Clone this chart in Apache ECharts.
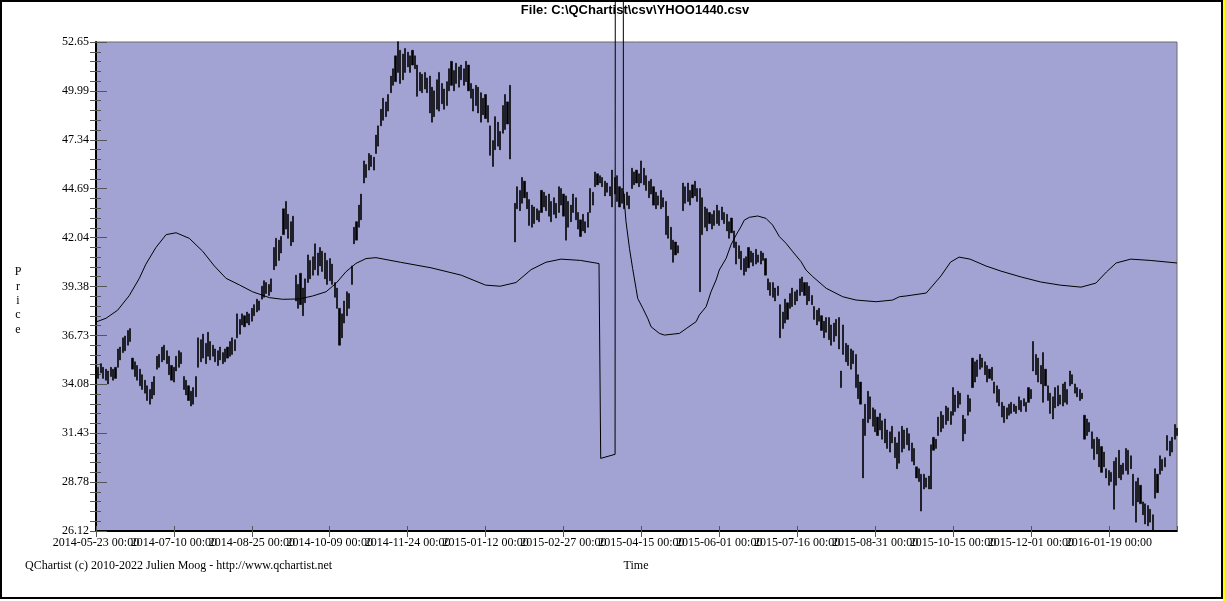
<!DOCTYPE html>
<html><head><meta charset="utf-8">
<script src="https://cdn.jsdelivr.net/npm/echarts@6/dist/echarts.min.js"></script>
<style>html,body{margin:0;padding:0;background:#fff}#c{width:1225px;height:601px}</style>
</head><body><div id="c"></div>
<script>
const chartTitle = 'File: C:\\QChartist\\csv\\YHOO1440.csv';
const xTickLabels = ['2014-05-23 00:00','2014-07-10 00:00','2014-08-25 00:00','2014-10-09 00:00','2014-11-24 00:00','2015-01-12 00:00','2015-02-27 00:00','2015-04-15 00:00','2015-06-01 00:00','2015-07-16 00:00','2015-08-31 00:00','2015-10-15 00:00','2015-12-01 00:00','2016-01-19 00:00'];
const yTickLabels = ['26.12','28.78','31.43','34.08','36.73','39.38','42.04','44.69','47.34','49.99','52.65'];
const barCount = 445;
const barLow = [
34.6,34.4,34.7,34.4,34.3,34.1,34.5,34.3,34.4,35.0,35.4,35.8,35.9,36.2,36.4,34.9,34.5,34.3,34.0,33.8,
33.6,33.2,33.0,33.3,33.5,34.9,35.0,35.3,35.4,35.2,34.6,34.3,34.2,34.8,35.0,35.2,33.8,33.5,33.2,32.9,
33.0,33.4,35.0,35.3,35.5,35.2,35.6,35.4,35.6,35.3,35.1,35.4,35.2,35.3,35.5,35.6,35.7,35.9,36.6,36.8,
37.3,37.2,37.4,37.3,37.5,37.8,38.0,38.1,38.7,38.8,39.0,38.9,39.1,40.3,40.5,40.8,41.2,42.2,42.5,42.0,
41.6,41.8,38.6,38.2,38.4,37.8,38.5,39.6,39.8,40.0,40.3,40.0,40.5,40.2,39.8,39.5,39.7,39.5,38.8,38.2,
36.2,36.6,37.4,37.8,38.2,39.5,41.7,41.9,42.6,43.0,45.0,45.3,45.7,45.9,45.7,46.6,47.0,48.1,48.4,48.6,
48.9,49.9,50.3,50.5,51.0,50.4,50.6,51.0,51.3,51.0,51.4,51.2,49.7,50.0,49.9,50.1,49.9,48.8,48.3,48.6,
49.0,48.9,49.3,49.0,49.2,50.0,50.3,50.0,50.4,50.2,50.6,50.3,50.5,50.0,49.6,48.9,49.2,48.8,48.3,48.7,
48.5,48.3,46.5,45.9,46.8,47.0,46.8,47.7,47.9,48.2,46.3,null,41.8,43.6,43.5,43.9,44.2,43.6,42.7,42.6,
42.8,43.0,42.9,43.4,43.7,43.5,43.2,42.9,43.3,43.1,43.4,43.8,43.2,41.9,42.6,42.9,43.4,43.0,42.5,42.1,
42.4,42.3,42.6,43.4,43.8,44.8,44.9,45.0,44.8,44.3,44.5,44.3,43.7,44.4,44.0,43.7,43.9,43.6,43.8,43.6,
44.7,44.9,45.0,44.8,45.0,44.9,44.6,44.2,44.4,43.8,43.6,43.8,43.6,43.7,42.2,42.0,41.4,40.7,41.1,41.2,
null,43.5,43.9,44.0,43.8,44.2,44.3,44.0,39.1,42.2,42.6,42.4,42.8,42.5,42.7,42.8,42.7,43.0,42.8,42.4,
42.0,42.3,41.5,40.6,40.9,40.3,40.0,40.2,40.4,40.7,40.5,40.6,40.7,40.6,40.8,40.0,39.2,38.9,38.8,38.6,
38.9,36.6,37.1,37.4,37.6,38.2,38.3,38.4,38.6,38.9,39.1,38.9,38.4,38.6,38.4,37.6,37.3,37.5,37.0,36.6,
36.9,36.5,36.2,36.4,36.7,36.0,33.9,35.7,35.3,35.1,34.9,35.2,33.9,33.3,33.0,29.0,31.3,32.0,32.2,31.8,
31.5,31.3,31.6,31.1,30.9,30.6,30.4,30.9,30.1,29.5,29.8,30.4,30.6,30.8,30.5,29.9,29.7,29.0,28.8,27.2,
28.4,28.5,28.4,28.4,30.5,30.6,31.3,31.5,31.7,31.9,32.1,31.9,32.4,32.6,32.8,33.0,31.0,31.4,32.4,32.6,
33.9,34.2,34.5,34.9,35.0,34.6,34.2,34.4,34.3,33.6,33.1,32.9,32.3,32.0,32.2,32.4,32.5,32.6,32.5,32.7,
32.6,32.9,32.6,33.1,33.3,34.8,34.6,34.2,34.1,33.1,34.0,33.2,32.5,32.2,32.8,32.9,33.0,32.9,33.1,33.0,
34.0,34.1,33.6,33.4,33.2,33.3,31.1,31.3,31.5,30.6,30.0,30.3,29.6,29.3,29.6,29.0,28.6,28.8,27.3,28.6,
29.0,28.9,29.2,29.4,29.2,29.5,27.5,26.6,27.7,27.6,27.0,26.5,26.4,26.6,26.1,27.9,28.2,29.2,29.4,29.6,
30.5,30.2,30.4,31.1,31.3
];
const barHigh = [
35.1,35.0,35.2,35.0,34.9,34.8,35.0,34.9,35.0,36.0,36.1,36.6,36.7,37.0,37.1,35.5,35.3,35.1,34.9,34.6,
34.3,34.0,33.8,34.2,34.5,35.6,35.7,36.1,36.2,35.9,35.6,35.1,35.0,35.6,35.9,35.8,34.5,34.3,34.0,33.7,
33.9,34.5,36.6,36.5,36.8,36.3,36.9,36.4,36.2,36.0,35.9,36.1,35.8,36.0,36.1,36.4,36.6,36.5,37.9,37.6,
37.9,37.8,38.0,37.9,38.2,38.4,38.7,38.6,39.4,39.7,39.6,39.5,39.8,41.5,42.0,41.9,42.1,43.6,44.0,43.3,
42.9,43.2,40.0,39.5,40.1,39.3,39.8,41.1,40.8,41.0,41.7,41.2,41.5,41.3,41.2,40.8,40.9,40.6,39.6,39.3,
38.2,37.9,38.6,39.1,39.0,40.5,42.6,42.9,43.8,44.4,46.2,46.0,46.6,46.5,46.4,47.6,48.1,49.0,49.6,49.4,
49.8,50.8,51.2,51.9,52.67,52.2,52.0,52.3,52.1,51.9,52.2,51.9,51.4,51.0,50.9,51.0,50.7,50.8,50.2,50.0,
50.6,51.0,50.4,50.1,50.5,51.2,51.6,51.1,51.5,51.3,51.4,51.2,51.6,51.4,50.4,50.1,50.3,50.2,49.9,49.6,
49.8,49.2,48.1,47.3,48.6,48.3,47.8,49.2,49.8,49.4,50.3,null,43.9,44.8,44.6,45.3,45.1,44.5,44.1,43.8,
43.7,43.6,43.5,44.6,44.5,44.3,44.4,44.0,44.2,43.9,44.8,44.7,44.4,44.3,44.0,43.8,44.4,44.2,43.4,43.0,
43.3,42.9,43.4,44.7,44.5,45.6,45.5,45.4,45.3,45.1,45.0,44.8,45.7,45.3,45.4,44.8,44.7,44.4,44.5,44.3,
45.8,45.6,45.7,45.5,46.2,45.8,45.4,45.1,45.2,44.8,44.5,44.3,44.6,44.2,44.0,43.2,42.6,41.9,41.8,41.6,
null,45.0,44.8,45.0,44.6,44.9,45.1,44.7,44.7,44.2,43.7,43.6,43.4,43.3,43.5,43.8,43.5,43.7,43.4,43.3,
42.9,43.1,42.4,41.8,41.6,41.3,40.9,41.0,41.5,41.3,41.2,41.4,41.1,41.3,41.2,40.9,39.8,39.6,39.6,39.3,
39.4,38.4,38.0,38.7,38.5,39.0,39.3,39.1,39.2,39.8,39.9,39.6,39.6,39.4,38.9,38.3,38.1,38.2,37.8,37.5,
37.7,37.7,37.3,37.4,37.6,37.7,34.8,37.3,36.3,36.2,36.0,35.9,35.7,34.6,34.2,32.2,33.0,33.7,33.4,32.8,
32.7,32.3,32.5,32.1,32.2,31.6,31.5,31.8,31.2,30.9,31.5,31.8,31.6,31.7,31.4,30.9,30.6,29.6,29.5,29.2,
29.2,29.0,29.1,30.8,31.2,31.1,32.3,32.6,32.4,32.9,32.8,32.6,33.9,33.5,33.7,33.6,32.4,32.2,33.5,33.3,
35.5,35.3,35.4,35.7,35.5,35.3,35.1,34.9,35.0,34.2,34.0,33.8,33.1,32.9,32.8,33.0,33.1,33.0,32.9,33.4,
33.2,33.3,33.1,33.9,33.8,36.4,35.7,35.5,35.1,35.8,34.9,34.0,33.6,33.4,33.9,34.0,33.5,34.1,34.2,33.8,
34.8,34.6,34.1,33.9,33.8,33.6,32.4,32.2,32.0,31.5,31.1,31.2,31.1,30.7,30.4,29.5,29.4,29.3,29.9,30.1,
30.5,29.7,29.8,30.6,30.5,30.2,29.2,28.8,29.0,28.6,27.7,27.6,27.5,27.3,27.0,29.5,29.2,30.2,30.0,30.1,
31.3,31.0,31.2,31.9,31.7
];
const cycleLine = [
[0,37.46],[4.1,37.66],[8.9,38.1],[13.7,38.9],[17.8,39.83],[20.5,40.6],[24.6,41.5],[28.8,42.2],[32.9,42.3],
[38.3,42.0],[43.8,41.3],[48.6,40.5],[53.4,39.83],[58.9,39.47],[64.3,39.1],[71.2,38.78],[76.7,38.69],
[83.5,38.71],[89,38.87],[94.5,39.1],[98.6,39.56],[102.7,40.19],[106.8,40.64],[110.9,40.9],[115,40.95],
[125,40.7],[137.6,40.4],[150,40.0],[160,39.46],[166,39.4],[172.5,39.6],[178.7,40.3],[184.8,40.7],
[191,40.87],[199,40.8],[206.6,40.63],[207.3,30.06],[213.2,30.28],[214.1,300],[216.4,300],[216.6,44.6],
[217.7,42.9],[219.1,41.46],[220.4,40.37],[221.8,39.29],[222.5,38.74],[224.6,38.2],[226.6,37.66],[228.0,37.2],
[231.4,36.84],[233.5,36.75],[239.6,36.84],[242.4,37.1],[246.5,37.48],[247.8,37.84],[250.6,38.29],[252.6,39.1],
[254.7,39.74],[256.0,40.28],[258.8,40.91],[260.8,41.64],[262.9,42.18],[264.9,42.63],[266.3,42.99],[268.4,43.14],
[271.8,43.21],[275.2,43.08],[277.9,42.72],[280.7,42.09],[283.4,41.73],[286.2,41.27],[289.6,40.73],[291.6,40.28],
[294.4,39.92],[299.9,39.29],[306.7,38.83],[312.2,38.65],[320.4,38.56],[327.2,38.65],[330.0,38.83],[332.7,38.87],
[341,39.03],[347,39.95],[351,40.71],[354.5,40.98],[359,40.87],[365.5,40.5],[371.7,40.22],[380,39.9],
[388,39.63],[396,39.46],[404.6,39.35],[410.7,39.57],[415,40.17],[419,40.66],[425,40.87],[433,40.8],[444,40.66]
];

const categories = [];
for (let i = 0; i < barCount; i++) categories.push(String(i));
const ohlc = barLow.map((l, i) => (l == null ? '-' : [l, barHigh[i], l, barHigh[i]]));
const tickStep = 32;
const labelAt = (v, parity) => {
  const n = Math.round(Number(v));
  if (n % tickStep !== 0) return '';
  const k = n / tickStep;
  return (k % 2 === parity && xTickLabels[k]) ? xTickLabels[k] : '';
};

const serif = 'Liberation Serif, Times New Roman, serif';
const tickGray = '#555555';
const xLabelStyle = {margin: 6, color: '#000', fontFamily: serif, fontSize: 12};
const chart = echarts.init(document.getElementById('c'), null, {renderer: 'canvas'});
chart.setOption({
  animation: false,
  backgroundColor: '#ffffff',
  grid: {left: 96, right: 48, top: 42, bottom: 70, show: true, backgroundColor: '#A3A3D3', borderColor: '#6a6a6a', borderWidth: 1},
  xAxis: [
    {type: 'category', data: categories, boundaryGap: false, position: 'bottom',
     axisLine: {lineStyle: {color: '#000', width: 2}},
     axisTick: {show: true, interval: tickStep - 1, length: 6, lineStyle: {color: tickGray}},
     axisLabel: Object.assign({interval: tickStep * 2 - 1, formatter: v => labelAt(v, 0)}, xLabelStyle),
     splitLine: {show: false}},
    {type: 'value', min: 0, max: barCount - 1, interval: tickStep, position: 'bottom',
     axisLine: {show: false}, axisTick: {show: true, inside: true, length: 5, lineStyle: {color: tickGray}},
     axisLabel: Object.assign({formatter: v => labelAt(v, 1)}, xLabelStyle), splitLine: {show: false}}
  ],
  yAxis: [
    {type: 'value', min: 26.12, max: 52.65, show: false, splitLine: {show: false}},
    {type: 'value', min: 0, max: 10, interval: 1, position: 'left',
     axisLine: {show: true, lineStyle: {color: '#000', width: 2}},
     axisTick: {show: true, length: 6, lineStyle: {color: tickGray}},
     minorTick: {show: true, splitNumber: 5, length: 6, lineStyle: {color: tickGray}},
     axisLabel: {margin: 7, color: '#000', fontFamily: serif, fontSize: 12, formatter: v => yTickLabels[v]},
     splitLine: {show: false}, minorSplitLine: {show: false}},
    {type: 'value', min: 0, max: 10, interval: 1, position: 'left',
     axisLine: {show: false},
     axisTick: {show: true, inside: true, length: 11, lineStyle: {color: tickGray}},
     minorTick: {show: true, splitNumber: 5, length: 5, lineStyle: {color: tickGray}},
     axisLabel: {show: false}, splitLine: {show: false}, minorSplitLine: {show: false}}
  ],
  series: [
    {type: 'candlestick', xAxisIndex: 0, yAxisIndex: 0, data: ohlc, barWidth: 1.6,
     itemStyle: {color: '#000', color0: '#000', borderColor: '#000', borderColor0: '#000', borderWidth: 0.6}},
    {type: 'line', xAxisIndex: 1, yAxisIndex: 0, data: cycleLine, showSymbol: false, clip: false,
     lineStyle: {color: '#000', width: 1}, z: 5}
  ],
  graphic: [
    {type: 'rect', shape: {x: 1, y: 1, width: 1221, height: 597}, style: {fill: 'none', stroke: '#000', lineWidth: 2}, silent: true},
    {type: 'rect', shape: {x: 1223, y: 0, width: 2, height: 601}, style: {fill: '#ffff00'}, silent: true},
    {type: 'text', x: 635, y: 4, style: {text: chartTitle, font: 'bold 13px Liberation Sans, Arial, sans-serif', fill: '#000', textAlign: 'center', textVerticalAlign: 'top'}},
    {type: 'text', x: 18, y: 265, style: {text: 'P\nr\ni\nc\ne', font: '12px ' + serif, lineHeight: 14.3, fill: '#000', textAlign: 'center', textVerticalAlign: 'top'}},
    {type: 'text', x: 636, y: 560, style: {text: 'Time', font: '12px ' + serif, fill: '#000', textAlign: 'center', textVerticalAlign: 'top'}},
    {type: 'text', x: 25, y: 560, style: {text: 'QChartist (c) 2010-2022 Julien Moog - http://www.qchartist.net', font: '12px ' + serif, fill: '#000', textAlign: 'left', textVerticalAlign: 'top'}}
  ]
});
</script></body></html>
